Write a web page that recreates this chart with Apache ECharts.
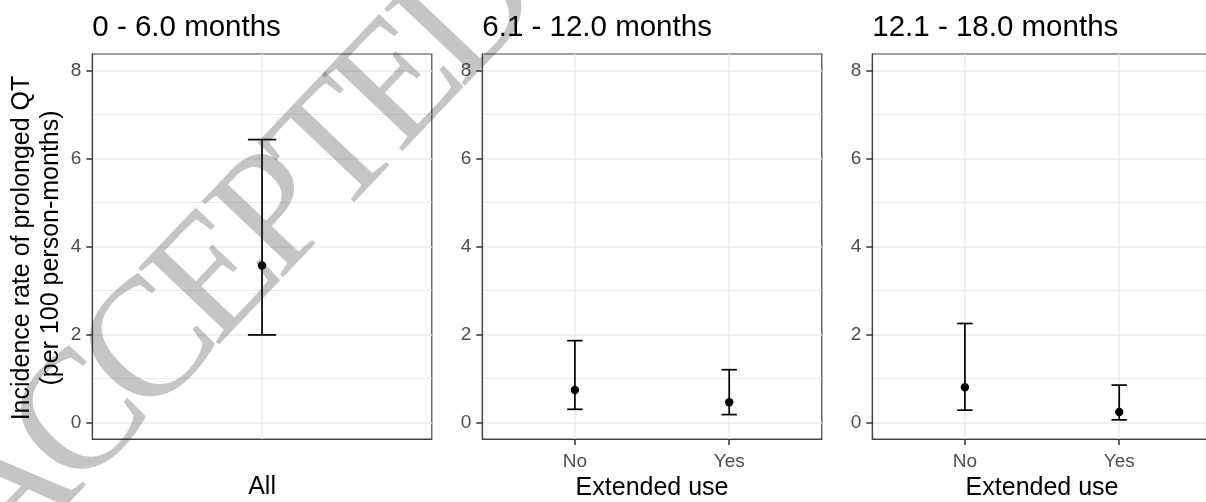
<!DOCTYPE html>
<html><head><meta charset="utf-8">
<script src="https://cdn.jsdelivr.net/npm/echarts@6/dist/echarts.min.js"></script>
<style>html,body{margin:0;padding:0;background:#fff}#c{width:1206px;height:502px}</style>
</head><body><div id="c"></div>
<script>
const panelTitles = ['0 - 6.0 months', '6.1 - 12.0 months', '12.1 - 18.0 months'];
const panelCategories = [['All'], ['No', 'Yes'], ['No', 'Yes']];
const pointEstimates = [[3.57], [0.74, 0.46], [0.80, 0.24]];
const lowerCI = [[1.99], [0.30, 0.18], [0.28, 0.06]];
const upperCI = [[6.43], [1.86, 1.20], [2.25, 0.85]];
const yTicks = [0, 2, 4, 6, 8];
const yMinorTicks = [1, 3, 5, 7];
const xTitles = ['All', 'Extended use', 'Extended use'];
const yTitle = 'Incidence rate of prolonged QT\n(per 100 person-months)';
const watermarkLetters = ['A', 'C', 'C', 'E', 'P', 'T', 'E', 'D'];
const watermarkAdvance = [0.722, 0.667, 0.667, 0.611, 0.556, 0.611, 0.611, 0.722];

const FONT = '"Liberation Sans", Arial, Helvetica, sans-serif';
const lefts = [92.3, 482.3, 872.3];
const gridW = 339.5, gridTop = 54, gridH = 385;
const yMin = -0.375, yMax = 8.375;

const grid = [], xAxis = [], yAxis = [], series = [], title = [];
panelTitles.forEach((t, i) => {
  const cats = panelCategories[i];
  const xVals = cats.map((c, k) => k + 1);
  grid.push({left: lefts[i], top: gridTop, width: gridW, height: gridH, outerBoundsMode: 'none',
    containLabel: false,
    show: true, borderColor: '#444', borderWidth: 1.2, backgroundColor: 'transparent'});
  title.push({text: t, left: lefts[i], top: 13, padding: 0,
    textStyle: {fontSize: 29.5, fontWeight: 'normal', color: '#000', fontFamily: FONT}});
  xAxis.push({
    type: 'value', gridIndex: i, min: 0.4, max: cats.length + 0.6, position: 'bottom',
    axisLine: {show: true, onZero: false, lineStyle: {color: '#444', width: 1.2}},
    axisTick: {show: i > 0, customValues: xVals, length: 6, lineStyle: {color: '#333', width: 1.5}},
    axisLabel: {show: i > 0, customValues: xVals, margin: 13, color: '#4D4D4D', fontSize: 19, fontFamily: FONT,
      formatter: v => cats[Math.round(v) - 1] || ''},
    splitLine: {show: true, lineStyle: {color: '#EBEBEB', width: 1.5}},
    name: xTitles[i], nameLocation: 'middle', nameGap: 36,
    nameTextStyle: {fontSize: 25, color: '#000', fontFamily: FONT}
  });
  yAxis.push({
    type: 'value', gridIndex: i, min: yMin, max: yMax, position: 'left',
    axisLine: {show: true, onZero: false, lineStyle: {color: '#444', width: 1.2}},
    axisTick: {show: true, customValues: yTicks, length: 6, lineStyle: {color: '#333', width: 1.5}},
    axisLabel: {show: true, customValues: yTicks, margin: 11, color: '#4D4D4D', fontSize: 19, fontFamily: FONT},
    splitLine: {show: true, lineStyle: {color: '#EBEBEB', width: 1.5}}
  });
  yAxis.push({
    type: 'value', gridIndex: i, min: yMin, max: yMax, position: 'left',
    axisLine: {show: false, onZero: false}, axisLabel: {show: false},
    axisTick: {show: false, customValues: yMinorTicks},
    splitLine: {show: true, lineStyle: {color: '#EBEBEB', width: 1}}
  });
  series.push({
    type: 'custom', xAxisIndex: i, yAxisIndex: 2 * i, z: 5,
    data: cats.map((c, k) => [xVals[k], lowerCI[i][k], upperCI[i][k], pointEstimates[i][k]]),
    encode: {x: 0, y: [1, 2, 3]},
    renderItem: (params, api) => {
      const x = api.value(0);
      const lo = api.coord([x, api.value(1)]);
      const hi = api.coord([x, api.value(2)]);
      const pt = api.coord([x, api.value(3)]);
      const half = api.size([0.05, 0])[0];
      const st = {stroke: '#000', lineWidth: 1.7};
      return {type: 'group', children: [
        {type: 'line', shape: {x1: hi[0], y1: hi[1], x2: lo[0], y2: lo[1]}, style: st},
        {type: 'line', shape: {x1: hi[0] - half, y1: hi[1], x2: hi[0] + half, y2: hi[1]}, style: st},
        {type: 'line', shape: {x1: lo[0] - half, y1: lo[1], x2: lo[0] + half, y2: lo[1]}, style: st},
        {type: 'circle', shape: {cx: pt[0], cy: pt[1], r: 4.2}, style: {fill: '#000'}}
      ]};
    }
  });
});

// watermark, letter by letter along a diagonal
const wmFont = 170, wmSpacing = 150, wmAngle = 46.5 * Math.PI / 180;
const dir = [Math.cos(wmAngle), -Math.sin(wmAngle)];
const anchor = [84, 422]; // centre of the first C
let cum = 0;
const centres = watermarkAdvance.map(w => { const c = cum + w / 2; cum += w; return c; });
const wm = watermarkLetters.map((ch, k) => {
  const d = (centres[k] - centres[1]) * wmSpacing;
  return {type: 'text', x: anchor[0] + d * dir[0], y: anchor[1] + d * dir[1], rotation: wmAngle,
    z: 100, silent: true,
    style: {text: ch, fontSize: wmFont, fontFamily: '"Liberation Serif", "Times New Roman", serif',
      fill: 'rgba(40,40,40,0.27)', align: 'center', verticalAlign: 'middle'}};
});

const chart = echarts.init(document.getElementById('c'), null, {renderer: 'canvas'});
chart.setOption({
  animation: false,
  backgroundColor: '#fff',
  title, grid, xAxis, yAxis, series,
  graphic: [
    {type: 'text', x: 37, y: 248, rotation: Math.PI / 2, z: 10,
      style: {text: yTitle, fontSize: 25, lineHeight: 29, fontFamily: FONT, fill: '#000',
        align: 'center', verticalAlign: 'middle'}}
  ].concat(wm)
});
</script></body></html>
